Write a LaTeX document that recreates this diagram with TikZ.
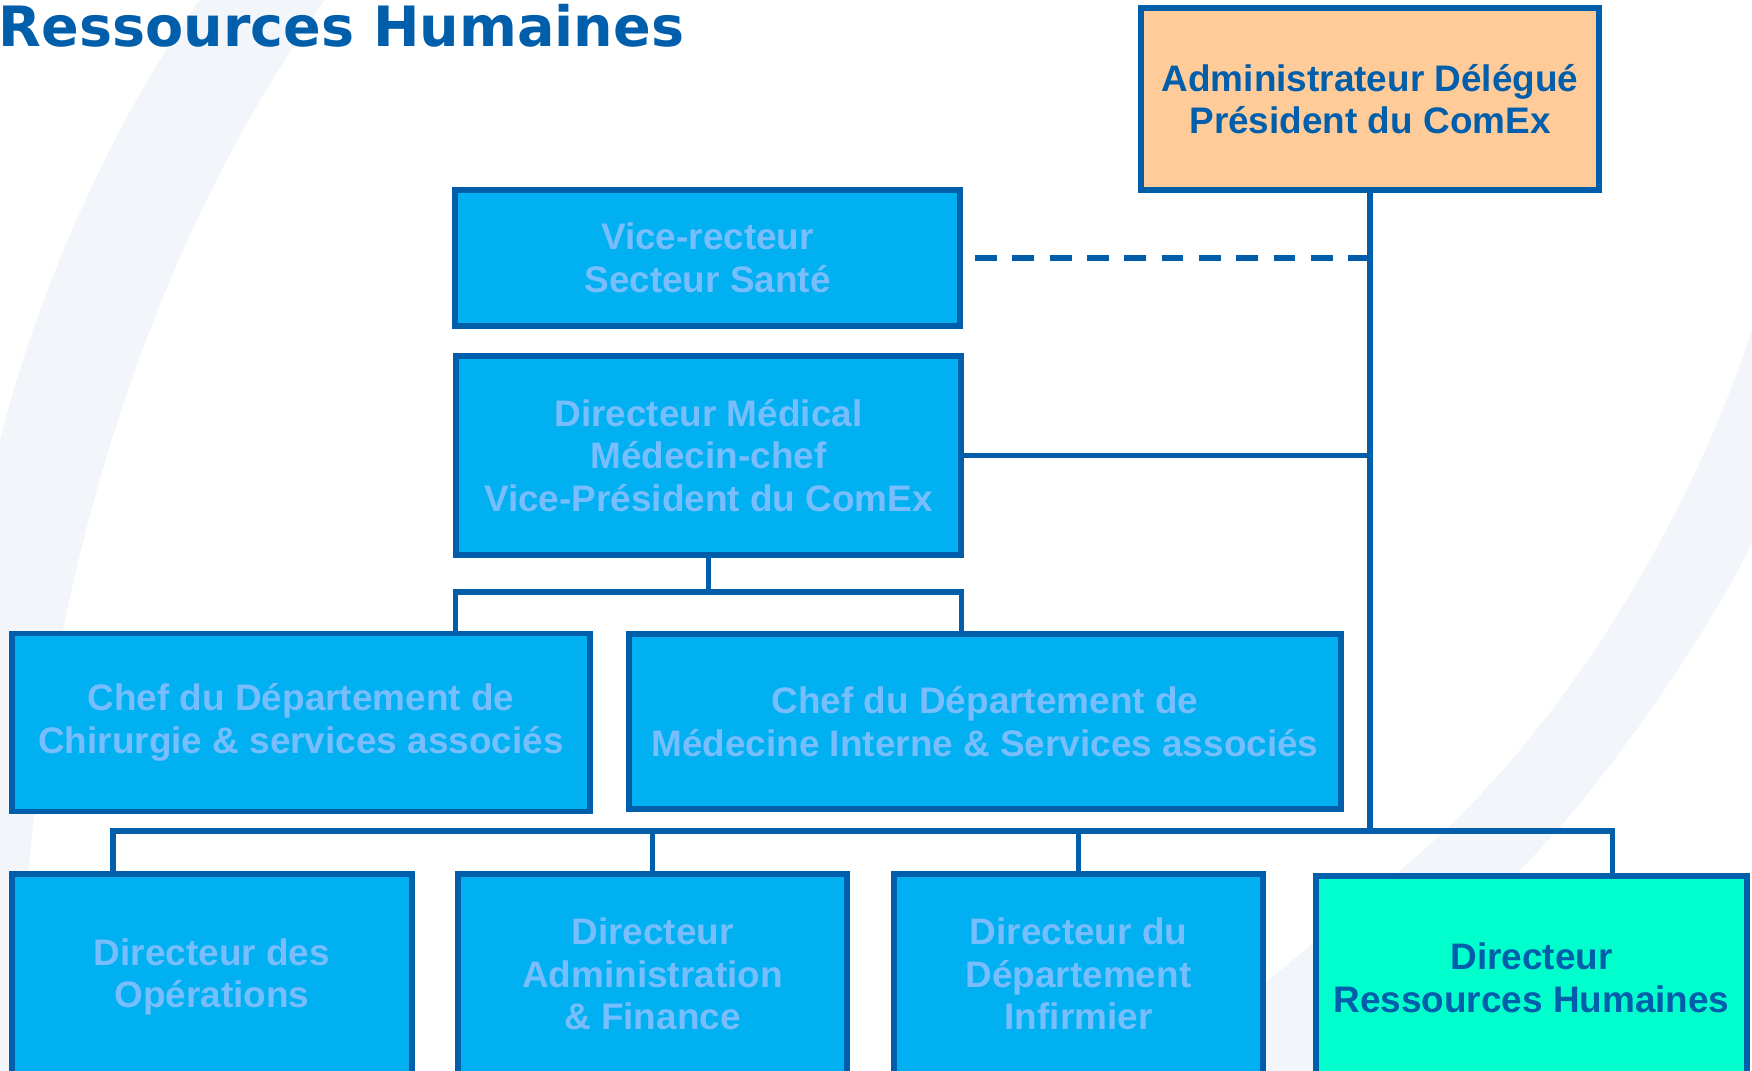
\documentclass[tikz,border=0pt]{standalone}
\usepackage{fontspec}
\setmainfont{Liberation Sans}
\newfontfamily\titlefont{DejaVu Sans}
\usepackage{xcolor}
\usepackage{tikz}
\usetikzlibrary{calc}
\definecolor{edgeblue}{RGB}{0,94,170}
\definecolor{boxcyan}{RGB}{0,176,240}
\definecolor{palelbl}{RGB}{120,190,255}
\definecolor{peach}{RGB}{255,204,153}
\definecolor{mint}{RGB}{0,255,204}
\definecolor{swoosh}{RGB}{242,245,250}

\begin{document}
\begin{tikzpicture}[x=0.01cm, y=-0.01cm, box/.style={draw=edgeblue, line width=1.6pt, fill=boxcyan, text=palelbl, font=\bfseries\fontsize{10.5}{12.1}\selectfont, align=center, inner sep=0pt, outer sep=0pt}, link/.style={draw=edgeblue, line width=1.5pt, line join=miter}, dashlink/.style={draw=edgeblue, line width=1.5pt, dash pattern=on 0.217cm off 0.156cm}]
  \clip (0,0) rectangle (1752,1071);
  \fill[white] (0,0) rectangle (1752,1071);
  \fill[swoosh] (200,0) .. controls (120,110) and (40,280) .. (0,440) -- (0,1071) -- (23,1071) .. controls (15,760) and (90,330) .. (325,0) -- cycle;
  \fill[swoosh] (1752,330) .. controls (1690,520) and (1560,740) .. (1397,873) -- (1160,1071) -- (1330,1071) -- (1517,873) .. controls (1620,770) and (1720,610) .. (1752,543) -- cycle;
  \node[anchor=base west, inner sep=0pt, text=edgeblue, font=\titlefont\bfseries\fontsize{15.8}{19}\selectfont] (title) at (-2,47) {Ressources Humaines};
  \node[box, fill=peach, text=edgeblue, minimum width=4.58cm, minimum height=1.82cm] (admin) at (1370,99) {Administrateur Délégué\\Président du ComEx};
  \node[box, minimum width=5.05cm, minimum height=1.36cm] (vr) at (707.5,258) {Vice-recteur\\Secteur Santé};
  \node[box, minimum width=5.05cm, minimum height=1.99cm] (dm) at (708.5,455.5) {Directeur Médical\\Médecin-chef\\Vice-Président du ComEx};
  \node[box, minimum width=5.78cm, minimum height=1.78cm] (chir) at (301,722.5) {Chef du Département de\\Chirurgie \& services associés};
  \node[box, minimum width=7.12cm, minimum height=1.75cm] (medi) at (985,721.5) {Chef du Département de\\Médecine Interne \& Services associés};
  \node[box, minimum width=4.00cm, minimum height=2.06cm] (ops) at (212,977) {Directeur des\\Opérations};
  \node[box, minimum width=3.89cm, minimum height=2.00cm] (fin) at (652.5,974) {Directeur\\Administration\\\& Finance};
  \node[box, minimum width=3.69cm, minimum height=2.00cm] (inf) at (1078.5,974) {Directeur du\\Département\\Infirmier};
  \node[box, fill=mint, text=edgeblue, minimum width=4.31cm, minimum height=2.04cm] (drh) at (1531.5,978) {Directeur\\Ressources Humaines};
  \coordinate (hubT) at (708.5,592);
  \coordinate (hubB) at (1370,831);
  \draw[dashlink] ([xshift=0.15cm]vr.east) -- (vr.east -| admin.south);
  \draw[link] (dm.east) -- (dm.east -| admin.south);
  \draw[link] (admin.south) -- (hubB);
  \draw[link] (dm.south) -- (hubT);
  \draw[link] (chir.north -| dm.west) |- (hubT) -| (medi.north -| dm.east);
  \draw[link] ([xshift=-0.99cm]ops.north) |- (hubB) -| ([xshift=0.81cm]drh.north);
  \draw[link] (fin.north) -- (fin.north |- hubB);
  \draw[link] (inf.north) -- (inf.north |- hubB);
\end{tikzpicture}
\end{document}
